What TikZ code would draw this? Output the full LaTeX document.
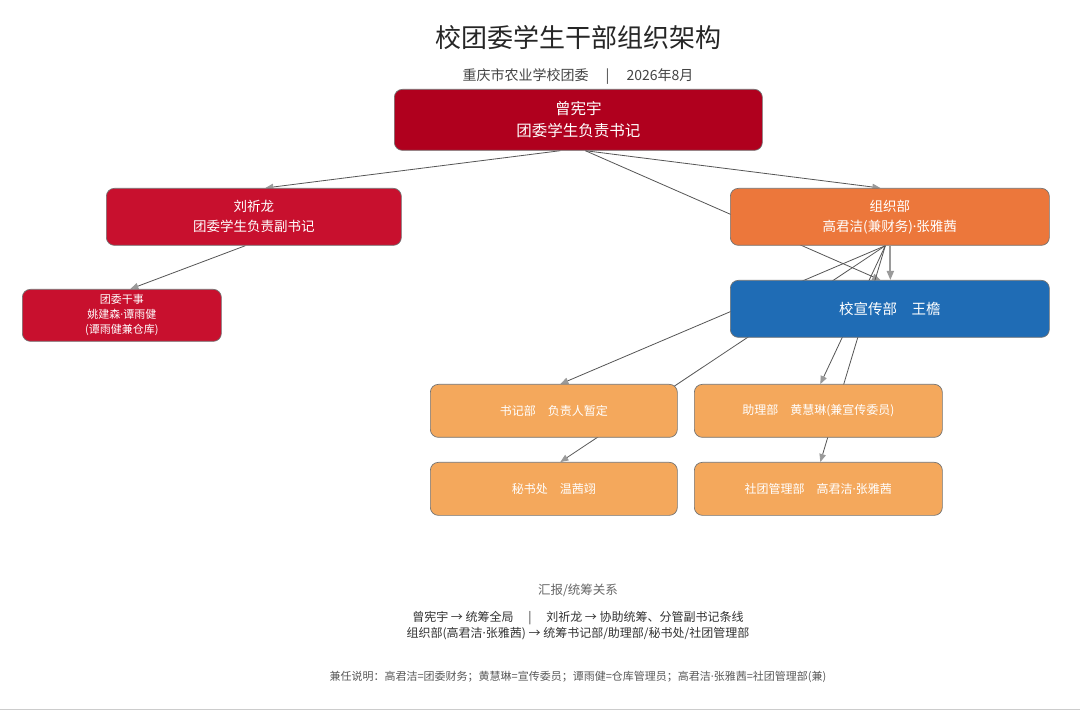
\documentclass[tikz,border=0pt]{standalone}
\usepackage{fontspec}
\setmainfont{Noto Sans CJK SC}
\newfontfamily\latinf{Noto Sans}
\newcommand\mdot{{\latinf ·}}
\usetikzlibrary{arrows.meta,backgrounds}
\pgfdeclarelayer{paper}
\pgfsetlayers{paper,background,main}
\definecolor{topred}{HTML}{B0001E}
\definecolor{midred}{HTML}{C8102E}
\definecolor{orgorange}{HTML}{EC773B}
\definecolor{pubblue}{HTML}{1F6CB5}
\definecolor{lightorange}{HTML}{F4A85C}
\definecolor{edgegray}{HTML}{555555}
\definecolor{tipgray}{HTML}{9A9A9A}
\definecolor{subgray}{HTML}{444444}
\tikzset{
  box/.style={rounded corners=8pt, draw=black!55, line width=0.7pt, text=white, align=center, inner sep=0pt, anchor=north west},
  conn/.style={draw=edgegray, line width=0.8pt, -{Triangle[color=tipgray,length=8pt,width=6.5pt]}},
  connthick/.style={draw=tipgray, line width=1.8pt, -{Triangle[color=tipgray,length=9pt,width=7pt]}},
}
\begin{document}
\begin{tikzpicture}[x=1pt,y=-1pt]
\useasboundingbox (0,0) rectangle (1080,711);
\begin{pgfonlayer}{paper}
\fill[white] (0,0) rectangle (1080,711);
\draw[black!20, line width=1.2pt] (0,709.5) -- (1080,709.5);
\end{pgfonlayer}

\node[font=\fontsize{26}{30}\selectfont, text=black!85] (title) at (578,38) {校团委学生干部组织架构};
\node[font=\fontsize{14}{16}\selectfont, text=subgray] (sub) at (578,77) {重庆市农业学校团委\quad\ |\quad\ 2026年8月};

\node[box, fill=topred, minimum width=368pt, minimum height=61pt, font=\fontsize{15.5}{22}\selectfont] (zeng) at (394,89) {曾宪宇\\团委学生负责书记};
\node[box, fill=midred, minimum width=295pt, minimum height=57pt, font=\fontsize{13.5}{20}\selectfont] (liu) at (106,188) {刘祈龙\\团委学生负责副书记};
\node[box, fill=midred, minimum width=199pt, minimum height=52pt, font=\fontsize{11}{15}\selectfont] (ganshi) at (22,289) {团委干事\\姚建森\mdot 谭雨健\\(谭雨健兼仓库)};
\node[box, fill=orgorange, minimum width=319pt, minimum height=57pt, font=\fontsize{13.5}{20}\selectfont] (zuzhi) at (730,188) {组织部\\高君洁(兼财务)\mdot 张雅茜};
\node[box, fill=pubblue, minimum width=319pt, minimum height=57pt, font=\fontsize{14.5}{18}\selectfont] (xuan) at (730,280) {校宣传部\quad 王檐};
\node[box, fill=lightorange, minimum width=247pt, minimum height=53pt, font=\fontsize{12}{15}\selectfont] (shuji) at (430,384) {书记部\quad 负责人暂定};
\node[box, fill=lightorange, minimum width=248pt, minimum height=53pt, font=\fontsize{12}{15}\selectfont] (zhuli) at (694,384) {助理部\quad 黄慧琳(兼宣传委员)};
\node[box, fill=lightorange, minimum width=247pt, minimum height=53pt, font=\fontsize{12}{15}\selectfont] (mishu) at (430,462) {秘书处\quad 温茜翊};
\node[box, fill=lightorange, minimum width=248pt, minimum height=53pt, font=\fontsize{12}{15}\selectfont] (shetuan) at (694,462) {社团管理部\quad 高君洁\mdot 张雅茜};

\begin{scope}[on background layer]
\draw[conn] ([xshift=-18pt]zeng.south) -- ([xshift=11.5pt]liu.north);
\draw[conn] ([xshift=7pt]zeng.south) -- ([xshift=-9.5pt]zuzhi.north);
\draw[conn] ([xshift=7pt]zeng.south) -- ([xshift=-9.5pt]xuan.north);
\draw[conn] ([xshift=-8.5pt]liu.south) -- ([xshift=8.5pt]ganshi.north);
\draw[conn] ([xshift=-4.5pt]zuzhi.south) -- ([xshift=6.5pt]shuji.north);
\draw[conn] ([xshift=-4.5pt]zuzhi.south) -- ([xshift=6.5pt]mishu.north);
\draw[conn] ([xshift=-4.5pt]zuzhi.south) -- ([xshift=2pt]zhuli.north);
\draw[conn] ([xshift=-4.5pt]zuzhi.south) -- ([xshift=2pt]shetuan.north);
\draw[connthick] ([xshift=0.5pt]zuzhi.south) -- ([xshift=0.5pt]xuan.north);
\end{scope}

\node[font=\fontsize{12.5}{15}\selectfont, text=black!60] (legt) at (578,590) {汇报/统筹关系};
\node[font=\fontsize{12}{16}\selectfont, text=black!80, align=center] (leg) at (578,626) {曾宪宇 → 统筹全局\quad\ |\quad\ 刘祈龙 → 协助统筹、分管副书记条线\\组织部(高君洁\mdot 张雅茜) → 统筹书记部/助理部/秘书处/社团管理部};
\node[font=\fontsize{11}{13}\selectfont, text=black!65] (foot) at (578,677) {兼任说明：高君洁=团委财务；黄慧琳=宣传委员；谭雨健=仓库管理员；高君洁\mdot 张雅茜=社团管理部(兼)};
\end{tikzpicture}
\end{document}
